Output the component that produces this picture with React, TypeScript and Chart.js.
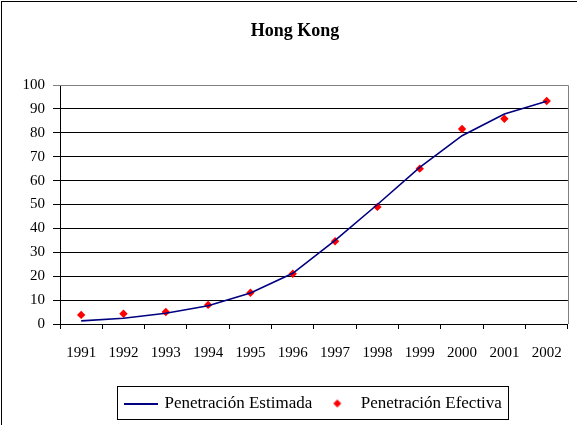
import { useEffect, useRef } from "react";
import { Chart, registerables } from "chart.js";

Chart.register(...registerables);

const titleText = "Hong Kong";
const categories = ["1991", "1992", "1993", "1994", "1995", "1996", "1997", "1998", "1999", "2000", "2001", "2002"];
const estimada = [1.3, 2.4, 4.5, 7.6, 13.0, 21.2, 35.0, 50.0, 65.5, 78.8, 87.9, 93.2];
const efectiva = [3.8, 4.3, 5.0, 8.0, 13.1, 21.0, 34.6, 49.0, 65.0, 81.6, 85.9, 93.3];
const seriesNames = ["Penetración Estimada", "Penetración Efectiva"];
const yMin = 0;
const yMax = 100;
const yStep = 10;

const FONT = "'Liberation Serif', 'Times New Roman', serif";
const NAVY = "#000080";
const RED = "#ff0000";

export default function App() {
  const ref = useRef<HTMLCanvasElement>(null);

  useEffect(() => {
    const canvas = ref.current;
    if (!canvas) return;

    const lineImg = document.createElement("canvas");
    lineImg.width = 34;
    lineImg.height = 2;
    const lc = lineImg.getContext("2d")!;
    lc.fillStyle = NAVY;
    lc.fillRect(0, 0, 34, 2);

    const diaImg = document.createElement("canvas");
    diaImg.width = 10;
    diaImg.height = 10;
    const dc = diaImg.getContext("2d")!;
    dc.fillStyle = RED;
    dc.beginPath();
    dc.moveTo(5, 1);
    dc.lineTo(9, 5);
    dc.lineTo(5, 9);
    dc.lineTo(1, 5);
    dc.closePath();
    dc.fill();

    const plotBorder = {
      id: "plotBorder",
      beforeDatasetsDraw(chart: any) {
        const { ctx, chartArea } = chart;
        const r = Math.round(chartArea.right) + 0.5;
        const t = Math.round(chartArea.top) + 0.5;
        ctx.save();
        ctx.strokeStyle = "#808080";
        ctx.lineWidth = 1;
        ctx.beginPath();
        ctx.moveTo(chartArea.left, t);
        ctx.lineTo(r, t);
        ctx.lineTo(r, chartArea.bottom);
        ctx.stroke();
        ctx.restore();
      },
    };

    const legendBox = {
      id: "legendBox",
      afterDraw(chart: any) {
        const lg = chart.legend;
        const hb = lg && lg.legendHitBoxes;
        if (!hb || !hb.length) return;
        const first = hb[0];
        const last = hb[hb.length - 1];
        const x1 = Math.round(first.left - 9) + 0.5;
        const x2 = Math.round(last.left + last.width + 6) + 0.5;
        const y1 = Math.round(first.top - 9) + 0.5;
        const y2 = Math.round(first.top + first.height + 7) + 0.5;
        const { ctx } = chart;
        ctx.save();
        ctx.strokeStyle = "#000";
        ctx.lineWidth = 1;
        ctx.strokeRect(x1, y1, x2 - x1, y2 - y1);
        ctx.restore();
      },
    };

    const chart = new Chart(canvas, {
      type: "line",
      data: {
        labels: categories,
        datasets: [
          {
            label: seriesNames[0],
            data: estimada,
            borderColor: NAVY,
            backgroundColor: NAVY,
            borderWidth: 1.6,
            pointRadius: 0,
            tension: 0,
            fill: false,
          },
          {
            label: seriesNames[1],
            data: efectiva,
            showLine: false,
            pointStyle: "rectRot",
            pointRadius: 4.2,
            pointBackgroundColor: RED,
            pointBorderColor: RED,
            pointBorderWidth: 0,
            borderColor: RED,
            backgroundColor: RED,
          },
        ],
      },
      plugins: [plotBorder, legendBox],
      options: {
        responsive: false,
        animation: false,
        devicePixelRatio: window.devicePixelRatio || 1,
        layout: { padding: { left: 20, right: 7, top: 0, bottom: 3 } },
        plugins: {
          tooltip: { enabled: false },
          title: {
            display: true,
            text: titleText,
            color: "#000",
            font: { family: FONT, size: 18, weight: "bold" },
            padding: { top: 21, bottom: 42.4 },
          },
          legend: {
            position: "bottom",
            fullSize: false,
            labels: {
              usePointStyle: true,
              pointStyleWidth: 30,
              padding: 10,
              color: "#000",
              font: { family: FONT, size: 17 },
              generateLabels(ch: any) {
                const items = Chart.defaults.plugins.legend.labels.generateLabels(ch);
                items.forEach((it: any, i: number) => {
                  it.pointStyle = i === 0 ? lineImg : diaImg;
                });
                return items;
              },
            },
          },
        },
        scales: {
          x: {
            type: "category",
            offset: true,
            grid: {
              offset: true,
              drawOnChartArea: false,
              drawTicks: true,
              tickLength: 5,
              color: "#000",
            },
            border: { display: true, color: "#000", width: 1 },
            ticks: {
              color: "#000",
              font: { family: FONT, size: 15 },
              padding: 15,
              maxRotation: 0,
              autoSkip: false,
            },
            afterFit(scale: any) {
              scale.height = 61;
            },
          },
          y: {
            min: yMin,
            max: yMax,
            grid: {
              color: (c: any) => (c.tick && c.tick.value === yMax ? "#808080" : "#000"),
              tickLength: 7,
              lineWidth: 1,
            },
            border: { display: true, color: "#000", width: 1 },
            ticks: {
              stepSize: yStep,
              color: "#000",
              font: { family: FONT, size: 15 },
              padding: 8,
            },
            afterFit(scale: any) {
              scale.width = 40;
            },
          },
        },
      },
    } as any);

    return () => chart.destroy();
  }, []);

  return (
    <div
      style={{
        position: "fixed",
        left: 0,
        top: 0,
        width: 577,
        height: 425,
        overflow: "hidden",
        background: "#fff",
      }}
    >
      <div
        style={{
          position: "absolute",
          left: 1,
          top: 1,
          width: 620,
          height: 620,
          border: "1px solid #000",
          boxSizing: "border-box",
        }}
      />
      <canvas
        ref={ref}
        width={577}
        height={425}
        style={{ position: "absolute", left: 0, top: 0, width: 577, height: 425 }}
      />
    </div>
  );
}
